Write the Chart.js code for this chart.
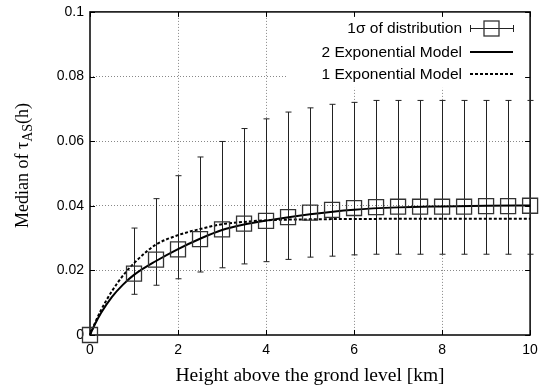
<!DOCTYPE html>
<html><head><meta charset="utf-8">
<script src="https://cdn.jsdelivr.net/npm/chart.js@4.4.1/dist/chart.umd.min.js"></script>
<style>html,body{margin:0;padding:0;background:#fff}#wrap{width:542px;height:387px}</style>
</head><body><div id="wrap"><canvas id="c" width="542" height="387"></canvas></div>
<script>
// Data
const heights   = [0, 1, 1.5, 2, 2.5, 3, 3.5, 4, 4.5, 5, 5.5, 6, 6.5, 7, 7.5, 8, 8.5, 9, 9.5, 10];
const medians   = [0, 0.019, 0.0233, 0.0265, 0.0297, 0.0327, 0.0345, 0.0353, 0.0365, 0.0379, 0.0387, 0.0393, 0.0396, 0.0397, 0.0397, 0.0397, 0.0397, 0.0399, 0.0399, 0.0400];
const sigmaLow  = [0, 0.0126, 0.0154, 0.0174, 0.0195, 0.0208, 0.0220, 0.0227, 0.0234, 0.0241, 0.0244, 0.0248, 0.0250, 0.0250, 0.0250, 0.0250, 0.0250, 0.0250, 0.0250, 0.0250];
const sigmaHigh = [0, 0.0331, 0.0422, 0.0493, 0.0551, 0.0599, 0.0639, 0.0669, 0.0690, 0.0703, 0.0714, 0.0720, 0.0726, 0.0726, 0.0726, 0.0726, 0.0726, 0.0726, 0.0726, 0.0726];
const twoExpH   = [0, 0.1, 0.25, 0.5, 0.75, 1, 1.5, 2, 2.5, 3, 3.5, 4, 5, 6, 7, 8, 9, 10];
const twoExpV   = [0, 0.0030, 0.0068, 0.0118, 0.0156, 0.0186, 0.0229, 0.0266, 0.0298, 0.0325, 0.0342, 0.0354, 0.0374, 0.0388, 0.0395, 0.0398, 0.0400, 0.0401];
const oneExpH   = [0, 0.1, 0.25, 0.5, 0.75, 1, 1.25, 1.5, 2, 2.5, 3, 3.5, 4, 5, 6, 8, 10];
const oneExpV   = [0, 0.0033, 0.0077, 0.0136, 0.0184, 0.0222, 0.0254, 0.0280, 0.0309, 0.0328, 0.0343, 0.0350, 0.0355, 0.0358, 0.0359, 0.0360, 0.0360];
const xTicks    = [0, 2, 4, 6, 8, 10];
const yTicks    = [0, 0.02, 0.04, 0.06, 0.08, 0.1];
const legendLabels = ['1\u03c3 of distribution', '2 Exponential Model', '1 Exponential Model'];

const pts = (xs, ys) => xs.map((x, i) => ({x: x, y: ys[i]}));
const SANS = '"Liberation Sans", Arial, sans-serif';
const SERIF = '"Liberation Serif", "Times New Roman", serif';

const gnuplotPlugin = {
  id: 'gnuplot',
  beforeDatasetsDraw(chart) {
    const {ctx, chartArea: a, scales: {x, y}} = chart;
    ctx.save();
    // mask grid behind legend
    ctx.fillStyle = '#fff';
    ctx.fillRect(286, a.top + 1, a.right - 287, 75);
    // frame
    ctx.strokeStyle = '#000'; ctx.lineWidth = 1.5;
    ctx.strokeRect(a.left, a.top, a.right - a.left, a.bottom - a.top);
    // mirrored inward ticks
    ctx.lineWidth = 1;
    xTicks.forEach(v => { const px = Math.round(x.getPixelForValue(v)) + 0.5;
      ctx.beginPath(); ctx.moveTo(px, a.bottom); ctx.lineTo(px, a.bottom - 5);
      ctx.moveTo(px, a.top); ctx.lineTo(px, a.top + 5); ctx.stroke(); });
    yTicks.forEach(v => { const py = Math.round(y.getPixelForValue(v)) + 0.5;
      ctx.beginPath(); ctx.moveTo(a.left, py); ctx.lineTo(a.left + 5, py);
      ctx.moveTo(a.right, py); ctx.lineTo(a.right - 5, py); ctx.stroke(); });
    // error bars
    ctx.strokeStyle = '#222'; ctx.lineWidth = 1;
    heights.forEach((h, i) => {
      if (sigmaHigh[i] === sigmaLow[i]) return;
      const px = Math.round(x.getPixelForValue(h)) + 0.5;
      const lo = y.getPixelForValue(sigmaLow[i]), hi = y.getPixelForValue(sigmaHigh[i]);
      ctx.beginPath(); ctx.moveTo(px, lo); ctx.lineTo(px, hi);
      ctx.moveTo(px - 3, lo); ctx.lineTo(px + 3, lo);
      ctx.moveTo(px - 3, hi); ctx.lineTo(px + 3, hi); ctx.stroke();
    });
    ctx.restore();
  },
  afterDraw(chart) {
    const {ctx, chartArea: a} = chart;
    ctx.save();
    // legend
    ctx.font = '15.5px ' + SANS; ctx.fillStyle = '#000';
    ctx.textAlign = 'right'; ctx.textBaseline = 'middle';
    const rows = [28, 52, 74];
    const x0 = 470, x1 = 513;
    legendLabels.forEach((t, i) => ctx.fillText(t, 462, rows[i] + 1));
    // row 1: error bar symbol with square
    ctx.strokeStyle = '#222'; ctx.lineWidth = 1;
    ctx.beginPath();
    ctx.moveTo(x0, rows[0] + 0.5); ctx.lineTo(x1, rows[0] + 0.5);
    ctx.moveTo(x0 + 0.5, rows[0] - 3); ctx.lineTo(x0 + 0.5, rows[0] + 4);
    ctx.moveTo(x1 + 0.5, rows[0] - 3); ctx.lineTo(x1 + 0.5, rows[0] + 4);
    ctx.stroke();
    ctx.lineWidth = 1.3; ctx.strokeStyle = '#333';
    ctx.strokeRect(484, rows[0] - 7, 15, 15);
    // row 2 solid
    ctx.strokeStyle = '#000'; ctx.lineWidth = 2;
    ctx.beginPath(); ctx.moveTo(x0, rows[1]); ctx.lineTo(x1, rows[1]); ctx.stroke();
    // row 3 dashed
    ctx.setLineDash([3, 2]);
    ctx.beginPath(); ctx.moveTo(x0, rows[2]); ctx.lineTo(x1, rows[2]); ctx.stroke();
    ctx.setLineDash([]);
    // axis titles
    ctx.textAlign = 'center'; ctx.textBaseline = 'alphabetic';
    ctx.font = '19.5px ' + SERIF;
    ctx.fillText('Height above the grond level [km]', (a.left + a.right) / 2, 381);
    // y title with subscript
    ctx.translate(28, (a.top + a.bottom) / 2 - 8);
    ctx.rotate(-Math.PI / 2);
    const p1 = 'Median of \u03c4', sub = 'AS', p2 = '(h)';
    ctx.font = '18px ' + SERIF; const w1 = ctx.measureText(p1).width, w3 = ctx.measureText(p2).width;
    ctx.font = '14px ' + SERIF; const w2 = ctx.measureText(sub).width;
    let sx = -(w1 + w2 + w3) / 2;
    ctx.textAlign = 'left';
    ctx.font = '18px ' + SERIF; ctx.fillText(p1, sx, 0); sx += w1;
    ctx.font = '14px ' + SERIF; ctx.fillText(sub, sx, 4); sx += w2;
    ctx.font = '18px ' + SERIF; ctx.fillText(p2, sx, 0);
    ctx.restore();
  }
};

new Chart(document.getElementById('c'), {
  type: 'line',
  data: {
    datasets: [
      { label: legendLabels[1], data: pts(twoExpH, twoExpV), borderColor: '#000', borderWidth: 2,
        pointRadius: 0, cubicInterpolationMode: 'monotone', fill: false, clip: false, order: 2 },
      { label: legendLabels[2], data: pts(oneExpH, oneExpV), borderColor: '#000', borderWidth: 2,
        borderDash: [3, 2], pointRadius: 0, cubicInterpolationMode: 'monotone', fill: false, clip: false, order: 3 },
      { label: legendLabels[0], data: pts(heights, medians), showLine: false, pointStyle: 'rect',
        pointRadius: 10.6, pointBorderWidth: 1.3, borderColor: '#333', pointBorderColor: '#333',
        pointBackgroundColor: 'rgba(0,0,0,0)', backgroundColor: 'rgba(0,0,0,0)', clip: false, order: 1 }
    ]
  },
  options: {
    responsive: false, animation: false, devicePixelRatio: 1,
    layout: { padding: { top: 11, right: 9, left: 0, bottom: 0 } },
    plugins: { legend: { display: false }, tooltip: { enabled: false } },
    scales: {
      x: { type: 'linear', min: 0, max: 10,
        afterBuildTicks: s => { s.ticks = xTicks.map(v => ({value: v})); },
        afterFit: s => { s.height = 52; s.paddingLeft = 0; s.paddingRight = 0; },
        border: { display: false, dash: [1, 2] },
        grid: { drawTicks: false, color: c => (c.tick && (c.tick.value === 0 || c.tick.value === 10)) ? 'rgba(0,0,0,0)' : '#888',
          lineWidth: 1 },
        ticks: { color: '#000', font: { family: SANS, size: 14 }, padding: 7, maxRotation: 0,
          callback: v => String(v) } },
      y: { type: 'linear', min: 0, max: 0.1,
        afterBuildTicks: s => { s.ticks = yTicks.map(v => ({value: v})); },
        afterFit: s => { s.width = 90; s.paddingTop = 0; s.paddingBottom = 0; },
        border: { display: false, dash: [1, 2] },
        grid: { drawTicks: false, color: c => (c.tick && (c.tick.value === 0 || c.tick.value === 0.1)) ? 'rgba(0,0,0,0)' : '#888',
          lineWidth: 1 },
        ticks: { color: '#000', font: { family: SANS, size: 14 }, padding: 6,
          callback: v => String(Math.round(v * 100) / 100) } }
    }
  },
  plugins: [gnuplotPlugin]
});
</script></body></html>
